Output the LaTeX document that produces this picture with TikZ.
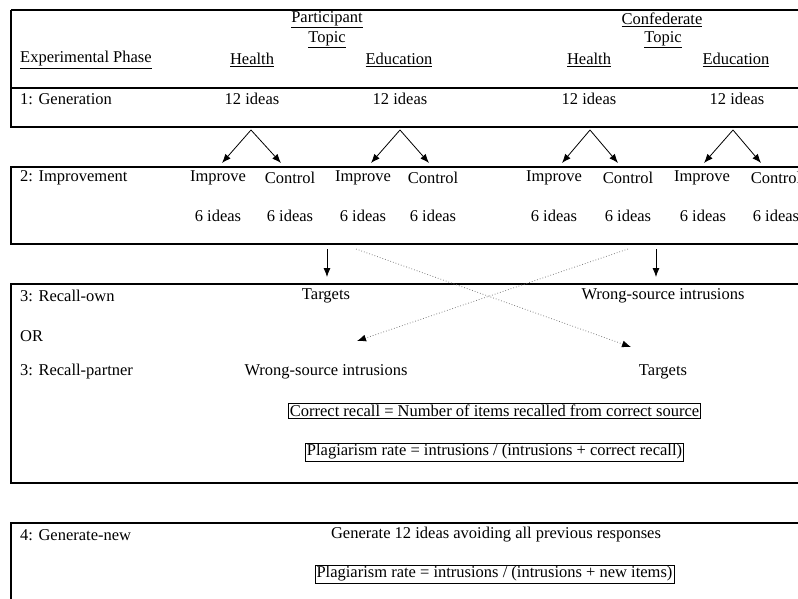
\documentclass[tikz,border=0pt]{standalone}
\usepackage{fontspec}
\setmainfont{Liberation Serif}
\usetikzlibrary{arrows.meta}

\def\txtsize{\fontsize{16.5}{19}\selectfont}
\def\rowwidth{798}
\tikzset{
  phase/.style={font=\txtsize, inner sep=0pt, anchor=west},
  cell/.style={font=\txtsize, inner sep=0pt},
  formula/.style={font=\txtsize, draw, line width=0.9pt, inner sep=1.5pt}
  }
\tikzstyle{rowline} = [draw, line width=1.2pt]
\tikzstyle{split} = [draw, line width=0.8pt, -{Latex[length=9pt,width=7pt]}]
\tikzstyle{cross} = [draw=gray, line width=0.8pt, dotted, -{Latex[black,length=9pt,width=7pt]}]

\begin{document}
\begin{tikzpicture}[x=1pt,y=-1pt]
   \useasboundingbox (0,0) rectangle (798,599);

   % frames of the four phases
   \path[rowline] (11,10) -- (\rowwidth,10);
   \path[rowline] (11,88) -- (\rowwidth,88);
   \path[rowline] (\rowwidth,127) -- (11,127) -- (11,10);
   \path[rowline] (\rowwidth,167) -- (11,167) -- (11,244) -- (\rowwidth,244);
   \path[rowline] (\rowwidth,284) -- (11,284) -- (11,483) -- (\rowwidth,483);
   \path[rowline] (\rowwidth,523) -- (11,523) -- (11,599);

   % header
   \node[cell] (pt) at (327,20) {\underline{Participant}};
   \node[cell] (ptt) at (327,40) {\underline{Topic}};
   \node[cell] (ct) at (662,20) {\underline{Confederate}};
   \node[cell] (ctt) at (663,40) {\underline{Topic}};
   \node[phase] (hd) at (20,60) {\underline{Experimental Phase}};
   \node[cell] (hph) at (252,60) {\underline{Health}};
   \node[cell] (hpe) at (399,60) {\underline{Education}};
   \node[cell] (hch) at (589,60) {\underline{Health}};
   \node[cell] (hce) at (736,60) {\underline{Education}};

   % 1: Generation
   \node[phase] (gen) at (20,99) {1: Generation};
   \node[cell] (ph) at (252,99) {12 ideas};
   \node[cell] (pe) at (400,99) {12 ideas};
   \node[cell] (ch) at (589,99) {12 ideas};
   \node[cell] (ce) at (737,99) {12 ideas};

   % 2: Improvement
   \node[phase] (imp) at (20,178) {2: Improvement};
   \node[cell] (phi) at (218,178) {Improve};
   \node[cell] (phc) at (290,178) {Control};
   \node[cell] (pei) at (363,178) {Improve};
   \node[cell] (pec) at (433,178) {Control};
   \node[cell] (chi) at (554,178) {Improve};
   \node[cell] (chc) at (628,178) {Control};
   \node[cell] (cei) at (702,178) {Improve};
   \node[cell] (cec) at (776,178) {Control};
   \node[cell] (phi6) at (218,216) {6 ideas};
   \node[cell] (phc6) at (290,216) {6 ideas};
   \node[cell] (pei6) at (363,216) {6 ideas};
   \node[cell] (pec6) at (433,216) {6 ideas};
   \node[cell] (chi6) at (554,216) {6 ideas};
   \node[cell] (chc6) at (628,216) {6 ideas};
   \node[cell] (cei6) at (703,216) {6 ideas};
   \node[cell] (cec6) at (776,216) {6 ideas};

   \coordinate (ph top) at (251,130);
   \coordinate (pe top) at (400,130);
   \coordinate (ch top) at (590,130);
   \coordinate (ce top) at (733,130);
   \coordinate (phi top) at (222,163);
   \coordinate (phc top) at (281,163);
   \coordinate (pei top) at (371,163);
   \coordinate (pec top) at (429,163);
   \coordinate (chi top) at (562,163);
   \coordinate (chc top) at (618,163);
   \coordinate (cei top) at (704,163);
   \coordinate (cec top) at (761,163);

   \path[split] (ph top) -- (phi top);
   \path[split] (ph top) -- (phc top);
   \path[split] (pe top) -- (pei top);
   \path[split] (pe top) -- (pec top);
   \path[split] (ch top) -- (chi top);
   \path[split] (ch top) -- (chc top);
   \path[split] (ce top) -- (cei top);
   \path[split] (ce top) -- (cec top);

   % 3: Recall
   \node[phase] (own) at (20,296) {3: Recall-own};
   \node[cell] (otg) at (326,296) {Targets};
   \node[cell] (owr) at (663,296) {Wrong-source intrusions};
   \node[phase] (or) at (20,336) {OR};
   \node[phase] (prt) at (20,372) {3: Recall-partner};
   \node[cell] (pwr) at (326,372) {Wrong-source intrusions};
   \node[cell] (ptg) at (663,372) {Targets};
   \node[formula] (cr) at (494.5,411) {Correct recall = Number of items recalled from correct source};
   \node[formula] (pr) at (494.5,452) {Plagiarism rate = intrusions / (intrusions + correct recall)};

   \coordinate (p out) at (327,249);
   \coordinate (p in) at (327,277);
   \coordinate (c out) at (656,249);
   \coordinate (c in) at (656,277);
   \coordinate (p cross) at (356,249);
   \coordinate (c cross) at (628,249);

   \path[split] (p out) -- (p in);
   \path[split] (c out) -- (c in);
   \path[cross] (p cross) -- (631,347);
   \path[cross] (c cross) -- (357,341);

   % 4: Generate-new
   \node[phase] (new) at (20,535) {4: Generate-new};
   \node[cell] (gn) at (496,535) {Generate 12 ideas avoiding all previous responses};
   \node[formula] (pn) at (494.5,574) {Plagiarism rate = intrusions / (intrusions + new items)};
\end{tikzpicture}
\end{document}
